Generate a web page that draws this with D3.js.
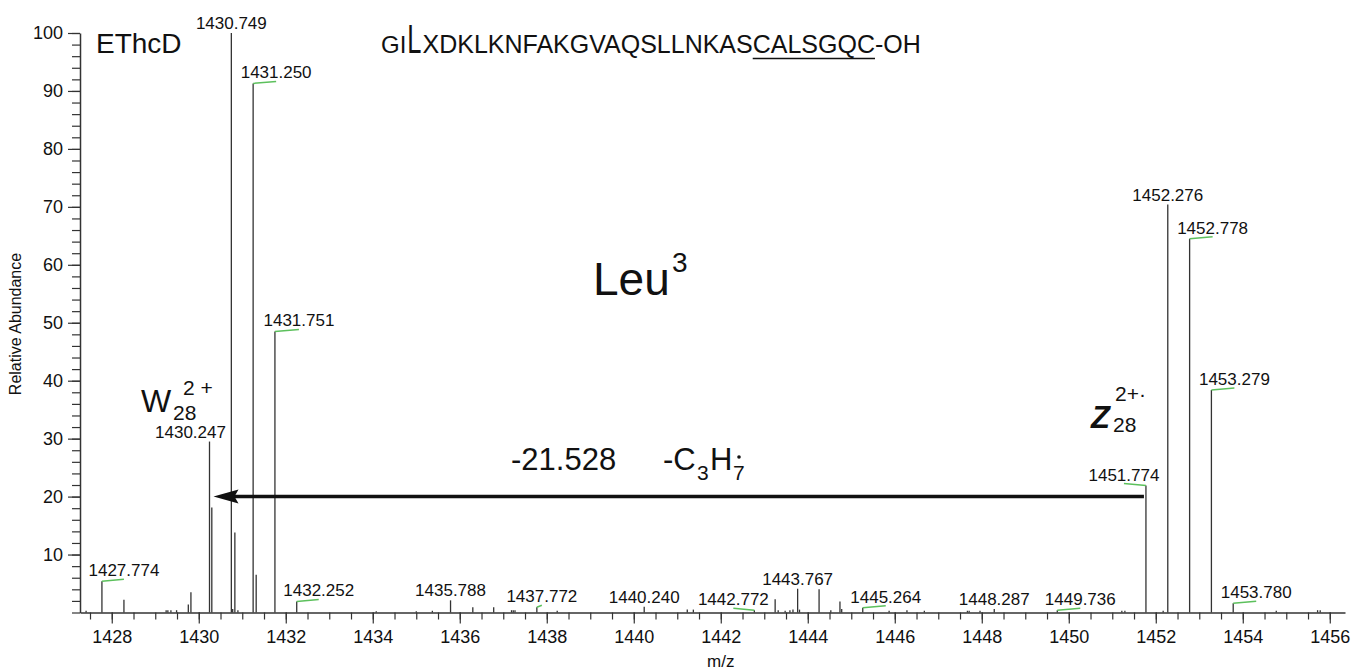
<!DOCTYPE html>
<meta charset="utf-8">
<style>
  body { margin: 0; background: #fff; }
  text { font-family: "Liberation Sans", Arial, sans-serif; fill: #111; }
</style>
<body>
<script src="https://d3js.org/d3.v7.min.js"></script>
<script>

var width = 1352,
    height = 672;

// spectrum: m/z of each centroid and its relative abundance (%)
var peakMz = [1427.41, 1427.774, 1428.28, 1429.25, 1429.29, 1429.36, 1429.49, 1429.76, 1429.82,
  1430.247, 1430.30, 1430.749, 1430.78, 1430.83, 1430.90, 1431.250, 1431.32, 1431.751, 1432.252,
  1434.08, 1435.00, 1435.37, 1435.788, 1436.30, 1436.78, 1437.19, 1437.23, 1437.27, 1437.772,
  1438.24, 1440.240, 1441.23, 1441.37, 1442.772, 1443.25, 1443.32, 1443.48, 1443.59, 1443.66,
  1443.767, 1443.81, 1444.26, 1444.53, 1444.74, 1444.78, 1445.264, 1445.87, 1446.28, 1446.68,
  1447.67, 1447.71, 1447.96, 1448.287, 1449.736, 1451.22, 1451.29, 1451.774, 1452.17, 1452.276,
  1452.778, 1453.279, 1453.780, 1454.77, 1455.72, 1455.78];
var peakInt = [0.3, 5.4, 2.2, 0.4, 0.4, 0.4, 0.4, 1.4, 3.5,
  29.5, 18.1, 100, 0.6, 13.8, 0.4, 91.3, 6.5, 48.5, 1.9,
  0.2, 0.2, 0.3, 2.1, 0.9, 0.9, 0.4, 0.4, 0.4, 0.9,
  0.3, 1.0, 0.5, 0.5, 0.4, 2.3, 0.4, 0.3, 0.4, 0.5,
  4.1, 0.5, 4.0, 0.4, 1.9, 0.6, 0.8, 0.3, 0.4, 0.3,
  0.3, 0.3, 0.3, 0.6, 0.4, 0.3, 0.3, 21.9, 0.3, 70.4,
  64.5, 38.4, 1.6, 0.3, 0.4, 0.4];

// labelled centroids
var labelMz = ["1427.774", "1430.247", "1430.749", "1431.250", "1431.751", "1432.252", "1435.788",
  "1437.772", "1440.240", "1442.772", "1443.767", "1445.264", "1448.287", "1449.736", "1451.774",
  "1452.276", "1452.778", "1453.279", "1453.780"];

var xTicksMajor = d3.range(1428, 1457, 2);
var xTicksMinor = d3.range(1427.5, 1456.01, 0.5);
var yTicksMajor = d3.range(10, 101, 10);
var yTicksMinor = d3.range(0, 101, 2);

// label offsets in px (0 = centred above the peak), with a green leader when shifted
var labelShift = {"1427.774": 22, "1430.247": -19, "1431.250": 23, "1431.751": 24, "1432.252": 22,
  "1437.772": 5, "1442.772": -21, "1445.264": 23, "1449.736": 23, "1451.774": -22,
  "1452.778": 23, "1453.279": 23, "1453.780": 23};
var noLeader = {"1430.247": true};

var svg = d3.select("body").append("svg")
    .attr("width", width)
    .attr("height", height);

var x = d3.scaleLinear().domain([1427.27, 1456.35]).range([80, 1345]);
var y = d3.scaleLinear().domain([0, 100]).range([612.5, 33]);

// axes
var gx = svg.append("g").attr("transform", "translate(0," + y(0) + ")");
gx.call(d3.axisBottom(x).tickValues(xTicksMinor).tickSize(7).tickSizeOuter(0).tickFormat(""));
gx.append("g").call(d3.axisBottom(x).tickValues(xTicksMajor).tickSize(11).tickSizeOuter(0)
    .tickPadding(6.5).tickFormat(d3.format("d")))
  .call(g => g.select(".domain").remove());

var gy = svg.append("g").attr("transform", "translate(" + x.range()[0] + ",0)");
gy.call(d3.axisLeft(y).tickValues(yTicksMinor).tickSize(8).tickSizeOuter(0).tickFormat(""));
gy.append("g").call(d3.axisLeft(y).tickValues(yTicksMajor).tickSize(12).tickSizeOuter(0)
    .tickPadding(5).tickFormat(d3.format("d")))
  .call(g => g.select(".domain").remove());

svg.selectAll(".domain").attr("stroke", "#333").attr("stroke-width", 1.5);
svg.selectAll(".tick line").attr("stroke", "#333").attr("stroke-width", 1.2);
svg.selectAll(".tick text").attr("font-size", 18).attr("fill", "#111")
    .style("font-family", '"Liberation Sans", Arial, sans-serif');

svg.append("text")
    .attr("x", x(1442))
    .attr("y", 667)
    .attr("text-anchor", "middle")
    .attr("font-size", 17)
    .text("m/z");

svg.append("text")
    .attr("transform", "translate(21,324) rotate(-90)")
    .attr("text-anchor", "middle")
    .attr("font-size", 16)
    .text("Relative Abundance");

// peaks
var peaks = peakMz.map((m, i) => ({mz: m, h: peakInt[i]}));
svg.append("g").selectAll("line")
  .data(peaks)
  .enter().append("line")
    .attr("x1", d => x(d.mz))
    .attr("x2", d => x(d.mz))
    .attr("y1", y(0))
    .attr("y2", d => y(d.h))
    .attr("stroke", "#333")
    .attr("stroke-width", 1.3);

// peak labels
var labels = labelMz.map(function(s) {
  var m = +s;
  var p = peaks.find(d => Math.abs(d.mz - m) < 1e-6);
  return {text: s, mz: m, h: p.h, dx: labelShift[s] || 0};
});

svg.append("g").selectAll("line")
  .data(labels.filter(d => d.dx !== 0 && !noLeader[d.text]))
  .enter().append("line")
    .attr("x1", d => x(d.mz))
    .attr("y1", d => y(d.h))
    .attr("x2", d => x(d.mz) + d.dx)
    .attr("y2", d => y(d.h) - 2)
    .attr("stroke", "#5cc05c")
    .attr("stroke-width", 1.5);

svg.append("g").selectAll("text")
  .data(labels)
  .enter().append("text")
    .attr("x", d => x(d.mz) + d.dx)
    .attr("y", d => y(d.h) - (d.dx !== 0 && !noLeader[d.text] ? 5 : 4))
    .attr("text-anchor", "middle")
    .attr("font-size", 17)
    .text(d => d.text);

// arrow from z28 to w28
var ay = y(20),
    ax1 = x(1451.774) - 2,
    ax0 = x(1430.247) + 4;
svg.append("line")
    .attr("x1", ax0 + 20).attr("x2", ax1)
    .attr("y1", ay).attr("y2", ay)
    .attr("stroke", "#111")
    .attr("stroke-width", 3.5);
svg.append("path")
    .attr("d", "M" + ax0 + "," + ay + "L" + (ax0 + 25) + "," + (ay - 7) +
               "L" + (ax0 + 21) + "," + ay + "L" + (ax0 + 25) + "," + (ay + 7) + "Z")
    .attr("fill", "#111");

// annotations
svg.append("text").attr("x", 96).attr("y", 53).attr("font-size", 28).text("EThcD");

// peptide sequence, with the enlarged L and the underlined C-terminal stretch
var gi = svg.append("text").attr("x", 381).attr("y", 53).attr("font-size", 24).text("GI");
var lx = 381 + gi.node().getComputedTextLength() + 1;
var bigL = svg.append("text").attr("transform", "translate(" + lx + ",53) scale(0.62,1)")
    .attr("font-size", 41).text("L");
var sx = lx + bigL.node().getComputedTextLength() * 0.62 + 1;
var seq = svg.append("text").attr("x", sx).attr("y", 53).attr("font-size", 25);
seq.append("tspan").text("XDKLKNFAKGVAQSLLNKAS");
seq.append("tspan").text("CALSGQC");
seq.append("tspan").text("-OH");
var n0 = seq.node(),
    u0 = n0.getStartPositionOfChar(20).x,
    u1 = n0.getEndPositionOfChar(26).x;
svg.append("line")
    .attr("x1", u0).attr("x2", u1)
    .attr("y1", 58.5).attr("y2", 58.5)
    .attr("stroke", "#111")
    .attr("stroke-width", 1.4);

svg.append("text").attr("x", 593).attr("y", 295).attr("font-size", 46).text("Leu");
svg.append("text").attr("x", 672).attr("y", 272).attr("font-size", 28).text("3");

svg.append("text").attr("x", 141).attr("y", 412).attr("font-size", 32).text("W");
svg.append("text").attr("x", 173).attr("y", 420).attr("font-size", 21).text("28");
svg.append("text").attr("x", 183).attr("y", 395).attr("font-size", 21).text("2 +");

svg.append("text").attr("x", 1091).attr("y", 428).attr("font-size", 31)
    .attr("font-weight", "bold").attr("font-style", "italic").text("Z");
svg.append("text").attr("x", 1113).attr("y", 432).attr("font-size", 21).text("28");
svg.append("text").attr("x", 1115).attr("y", 401).attr("font-size", 21).text("2+·");

svg.append("text").attr("x", 511).attr("y", 470).attr("font-size", 31).text("-21.528");
svg.append("text").attr("x", 663).attr("y", 470).attr("font-size", 31).text("-C");
svg.append("text").attr("x", 697).attr("y", 480).attr("font-size", 21).text("3");
svg.append("text").attr("x", 710).attr("y", 470).attr("font-size", 31).text("H");
svg.append("text").attr("x", 733).attr("y", 480).attr("font-size", 21).text("7");
// radical dot over the 7
svg.append("circle").attr("cx", 739).attr("cy", 457).attr("r", 1.8).attr("fill", "#111");

</script>
